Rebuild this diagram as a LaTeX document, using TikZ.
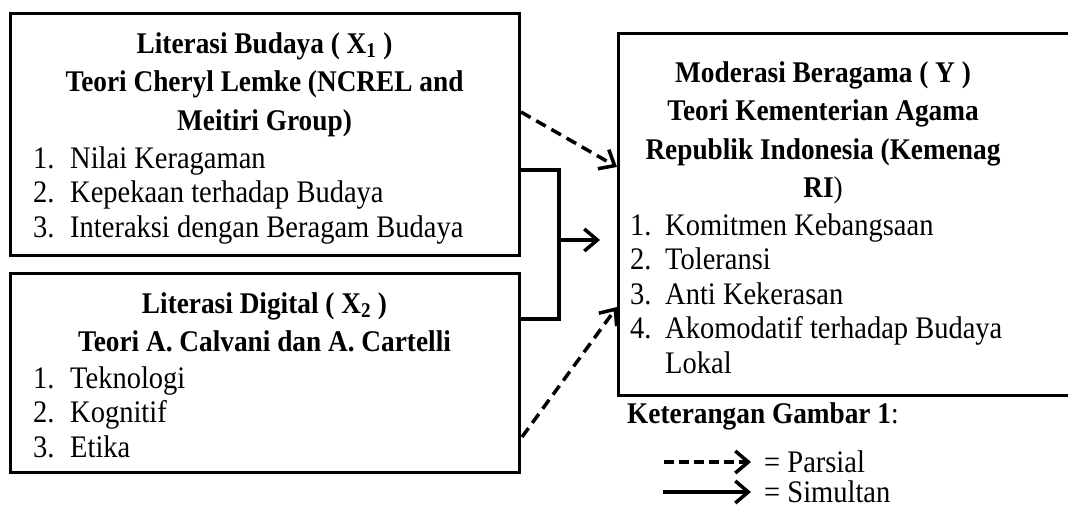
\documentclass[tikz,border=0pt]{standalone}
\usepackage{fontspec}
\usepackage{graphicx}
\setmainfont{Liberation Serif}
\usetikzlibrary{arrows.meta}
\newcommand{\vst}[1]{\scalebox{1}[1.1]{#1}}
\begin{document}
\begin{tikzpicture}[x=1pt,y=-1pt,
  box/.style={draw, line width=3pt, inner sep=0pt, fill=none},
  txt/.style={inner sep=0pt, font=\fontsize{28.5}{31.4}\selectfont},
  ttl/.style={inner sep=0pt, anchor=base, font=\fontsize{27.3}{35}\selectfont\bfseries},
  lst/.style={inner sep=0pt, anchor=base west, font=\fontsize{28.5}{31.4}\selectfont},
  conn/.style={line width=3.5pt},
  arr/.style={line width=3.5pt, -{Straight Barb[length=13pt,width=22pt,line width=3.5pt]}},
  darr/.style={arr, dash pattern=on 11pt off 6.5pt}]
\useasboundingbox (0,0) rectangle (1068,512);
\fill[white] (0,0) rectangle (1068,512);

% boxes
\node[box, minimum width=509pt, minimum height=242pt] (b1) at (264.5,134) {};
\node[box, minimum width=509pt, minimum height=199pt] (b2) at (264.5,372.5) {};
\node[box, minimum width=460pt, minimum height=362pt] (y) at (848,214) {};

% box 1 texts
\node[ttl] (t1) at (264.5,53) {\vst{\parbox[t]{500pt}{\centering
  Literasi Budaya ( X\textsubscript{1} )\\
  Teori Cheryl Lemke (NCREL and\\
  Meitiri Group)}}};
\node[lst] (l1) at (33,168) {\vst{\parbox[t]{480pt}{\raggedright
  \makebox[37pt][l]{1.}Nilai Keragaman\\
  \makebox[37pt][l]{2.}Kepekaan terhadap Budaya\\
  \makebox[37pt][l]{3.}Interaksi dengan Beragam Budaya}}};

% box 2 texts
\node[ttl] (t2) at (264.5,313) {\vst{\parbox[t]{500pt}{\centering
  Literasi Digital ( X\textsubscript{2} )\\
  Teori A. Calvani dan A. Cartelli}}};
\node[lst] (l2) at (33,388) {\vst{\parbox[t]{480pt}{\raggedright
  \makebox[37pt][l]{1.}Teknologi\\
  \makebox[37pt][l]{2.}Kognitif\\
  \makebox[37pt][l]{3.}Etika}}};

% box 3 texts
\node[ttl] (t3) at (823,82) {\vst{\parbox[t]{440pt}{\centering
  Moderasi Beragama ( Y )\\
  Teori Kementerian Agama\\
  Republik Indonesia (Kemenag\\
  RI{\mdseries )}}}};
\node[lst] (l3) at (630,235) {\vst{\parbox[t]{430pt}{\raggedright
  \makebox[35pt][l]{1.}Komitmen Kebangsaan\\
  \makebox[35pt][l]{2.}Toleransi\\
  \makebox[35pt][l]{3.}Anti Kekerasan\\
  \makebox[35pt][l]{4.}Akomodatif terhadap Budaya\\
  \hspace*{35pt}Lokal}}};

% connectors
\coordinate (j1) at (559,170);
\coordinate (j2) at (559,319);
\coordinate (jm) at (559,240);
\coordinate (jt) at (600,240);
\draw[conn] (b1.east |- j1) -- (j1) -- (j2) -- (b2.east |- j2);
\draw[arr] (jm) -- (jt);

\coordinate (d1s) at (521,112);
\coordinate (d1e) at (617,167);
\coordinate (d2s) at (522,437);
\coordinate (d2e) at (617,307);
\draw[darr] (d1s) -- (d1e);
\draw[darr] (d2s) -- (d2e);

% legend
\node[txt, anchor=base west, font=\fontsize{27.3}{31.4}\selectfont] (k) at (627,423) {\vst{\textbf{Keterangan Gambar 1}:}};
\coordinate (p1) at (664,462);
\coordinate (p2) at (751,462);
\coordinate (s1) at (663,492);
\coordinate (s2) at (751,492);
\draw[arr, dash pattern=on 10pt off 5pt] (p1) -- (p2);
\draw[arr] (s1) -- (s2);
\node[txt, anchor=base west] (kp) at (764,472) {\vst{= Parsial}};
\node[txt, anchor=base west] (ks) at (764,502) {\vst{= Simultan}};
\end{tikzpicture}
\end{document}
